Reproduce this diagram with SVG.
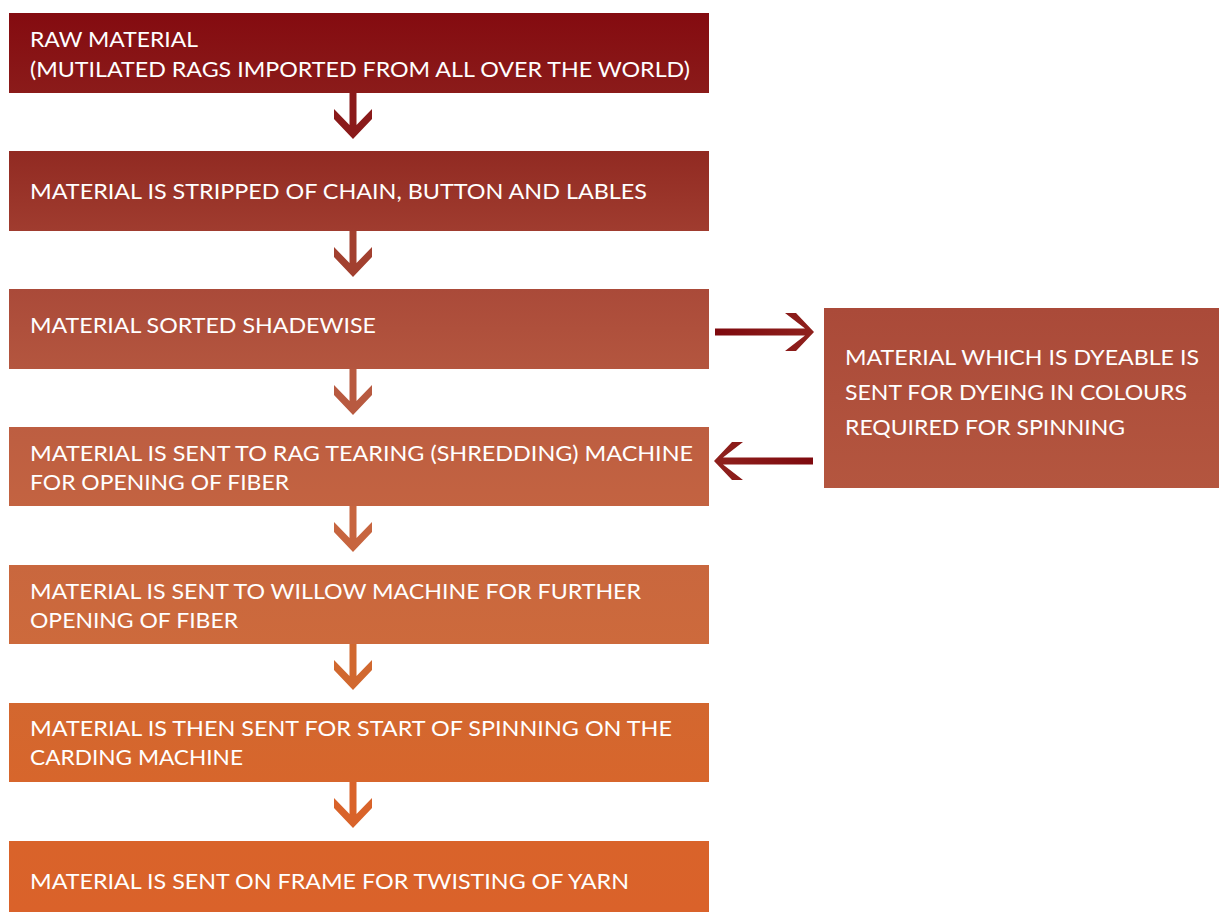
<svg xmlns="http://www.w3.org/2000/svg" xmlns:xlink="http://www.w3.org/1999/xlink" width="1219" height="913" viewBox="0 0 1219 913">
<style>
.t{fill:#ffffff;font-family:Lato,"Open Sans","DejaVu Sans",sans-serif;font-size:21px;font-weight:400}
</style>
<defs>
<linearGradient id="g1" x1="0" y1="0" x2="0" y2="1"><stop offset="0" stop-color="#840b10"/><stop offset="1" stop-color="#8b1b1a"/></linearGradient>
<linearGradient id="g2" x1="0" y1="0" x2="0" y2="1"><stop offset="0" stop-color="#912a22"/><stop offset="1" stop-color="#a03c2f"/></linearGradient>
<linearGradient id="g3" x1="0" y1="0" x2="0" y2="1"><stop offset="0" stop-color="#aa4a39"/><stop offset="1" stop-color="#b4563f"/></linearGradient>
<linearGradient id="g4" x1="0" y1="0" x2="0" y2="1"><stop offset="0" stop-color="#bd5e41"/><stop offset="1" stop-color="#c36341"/></linearGradient>
<linearGradient id="g5" x1="0" y1="0" x2="0" y2="1"><stop offset="0" stop-color="#c9673e"/><stop offset="1" stop-color="#cd6a3c"/></linearGradient>
<linearGradient id="g6" x1="0" y1="0" x2="0" y2="1"><stop offset="0" stop-color="#d3672f"/><stop offset="1" stop-color="#d7662c"/></linearGradient>
<linearGradient id="g7" x1="0" y1="0" x2="0" y2="1"><stop offset="0" stop-color="#d9632a"/><stop offset="1" stop-color="#da622a"/></linearGradient>
<linearGradient id="gh" x1="0" y1="0" x2="1" y2="0"><stop offset="0" stop-color="#7e090e"/><stop offset="1" stop-color="#8f211d"/></linearGradient>
<linearGradient id="ghl" x1="1" y1="0" x2="0" y2="0"><stop offset="0" stop-color="#7e090e"/><stop offset="1" stop-color="#8f211d"/></linearGradient>
<path id="down" d="M-3.5,0 H3.5 V32 L19,16 V26 L0,46 L-19,26 V16 L-3.5,32 Z"/>
</defs>

<g id="connectors">
<use xlink:href="#down" x="353" y="93" fill="#8a1a1a"/>
<use xlink:href="#down" x="353" y="231" fill="#a2402f"/>
<use xlink:href="#down" x="353" y="369" fill="#b85a40"/>
<use xlink:href="#down" x="353" y="506" fill="#c7653f"/>
<use xlink:href="#down" x="353" y="644" fill="#d1682f"/>
<use xlink:href="#down" x="353" y="782" fill="#d9632a"/>
<path d="M715,328.5 H805 L785,313 H796 L814,332 L796,351 H785 L805,335.5 H715 Z" fill="url(#gh)"/>
<path d="M813,457.5 H723 L743,442 H732 L714,461 L732,480 H743 L723,464.5 H813 Z" fill="url(#ghl)"/>
</g>

<g id="n1">
<rect x="9" y="13" width="700" height="80" fill="url(#g1)"/>
<text class="t" x="30" y="47" textLength="168" lengthAdjust="spacingAndGlyphs">RAW MATERIAL</text>
<text class="t" x="30" y="77" textLength="660" lengthAdjust="spacingAndGlyphs">(MUTILATED RAGS IMPORTED FROM ALL OVER THE WORLD)</text>
</g>
<g id="n2">
<rect x="9" y="151" width="700" height="80" fill="url(#g2)"/>
<text class="t" x="30" y="199" textLength="617" lengthAdjust="spacingAndGlyphs">MATERIAL IS STRIPPED OF CHAIN, BUTTON AND LABLES</text>
</g>
<g id="n3">
<rect x="9" y="289" width="700" height="80" fill="url(#g3)"/>
<text class="t" x="30" y="333" textLength="346" lengthAdjust="spacingAndGlyphs">MATERIAL SORTED SHADEWISE</text>
</g>
<g id="n4">
<rect x="9" y="427" width="700" height="79" fill="url(#g4)"/>
<text class="t" x="30" y="461" textLength="663" lengthAdjust="spacingAndGlyphs">MATERIAL IS SENT TO RAG TEARING (SHREDDING) MACHINE</text>
<text class="t" x="30" y="490" textLength="259" lengthAdjust="spacingAndGlyphs">FOR OPENING OF FIBER</text>
</g>
<g id="n5">
<rect x="9" y="565" width="700" height="79" fill="url(#g5)"/>
<text class="t" x="30" y="599" textLength="611" lengthAdjust="spacingAndGlyphs">MATERIAL IS SENT TO WILLOW MACHINE FOR FURTHER</text>
<text class="t" x="30" y="628" textLength="208" lengthAdjust="spacingAndGlyphs">OPENING OF FIBER</text>
</g>
<g id="n6">
<rect x="9" y="703" width="700" height="79" fill="url(#g6)"/>
<text class="t" x="30" y="736" textLength="642" lengthAdjust="spacingAndGlyphs">MATERIAL IS THEN SENT FOR START OF SPINNING ON THE</text>
<text class="t" x="30" y="765" textLength="213" lengthAdjust="spacingAndGlyphs">CARDING MACHINE</text>
</g>
<g id="n7">
<rect x="9" y="841" width="700" height="71" fill="url(#g7)"/>
<text class="t" x="30" y="889" textLength="599" lengthAdjust="spacingAndGlyphs">MATERIAL IS SENT ON FRAME FOR TWISTING OF YARN</text>
</g>
<g id="n8">
<rect x="824" y="308" width="395" height="180" fill="url(#g3)"/>
<text class="t" x="845" y="365" textLength="354" lengthAdjust="spacingAndGlyphs">MATERIAL WHICH IS DYEABLE IS</text>
<text class="t" x="845" y="400" textLength="342" lengthAdjust="spacingAndGlyphs">SENT FOR DYEING IN COLOURS</text>
<text class="t" x="845" y="435" textLength="280" lengthAdjust="spacingAndGlyphs">REQUIRED FOR SPINNING</text>
</g>
</svg>
